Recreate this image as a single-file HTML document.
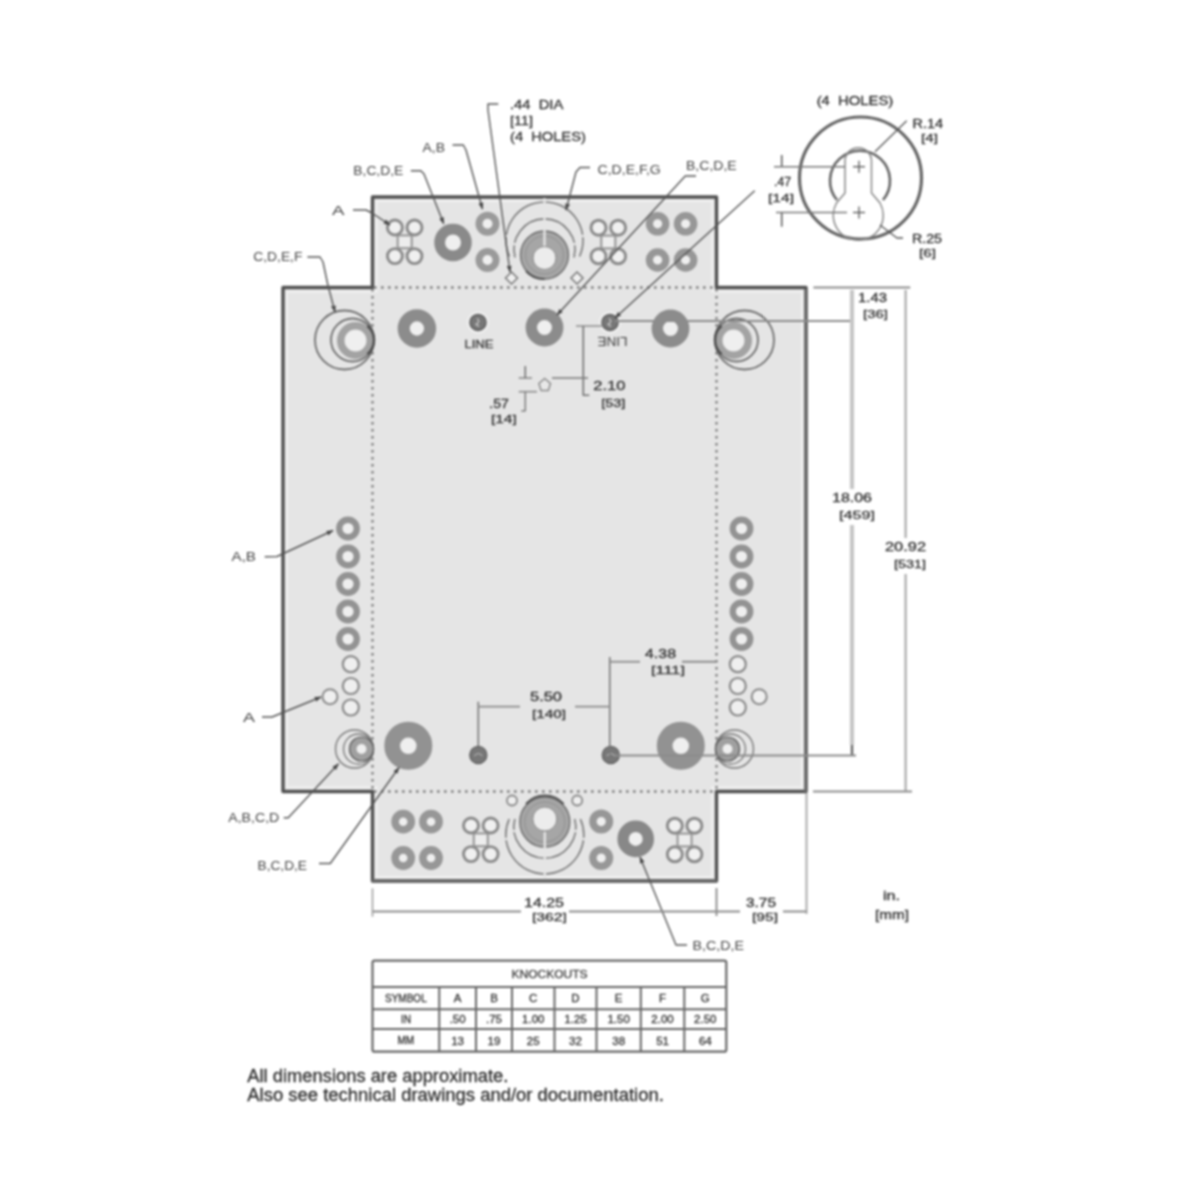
<!DOCTYPE html>
<html><head><meta charset="utf-8"><title>Knockouts drawing</title>
<style>
html,body{margin:0;padding:0;background:#fff;width:1200px;height:1200px;overflow:hidden}
svg{display:block;font-family:"Liberation Sans",sans-serif;filter:blur(0.8px)}
</style></head><body>
<svg width="1200" height="1200" viewBox="0 0 1200 1200">
<defs><marker id="arr" viewBox="0 0 10 10" refX="9" refY="5" markerWidth="5" markerHeight="5" orient="auto" markerUnits="strokeWidth"><path d="M0,1.5 L10,5 L0,8.5 Z" fill="#444"/></marker></defs>
<path d="M372.5,197 H716.5 V287.5 H806 V791.5 H716.5 V881 H372.5 V791.5 H283 V287.5 H372.5 Z" fill="#e5e5e5" stroke="#505050" stroke-width="3.4" stroke-linejoin="round"/>
<path d="M376.5,201 H712.5 V291.5 H802 V787.5 H712.5 V877 H376.5 V787.5 H287 V291.5 H376.5 Z" fill="none" stroke="#f0f0f0" stroke-width="2.5"/>
<path d="M806,289 V791.5" stroke="#6e6e6e" stroke-width="4"/>
<path d="M372.5,881 H716.5" stroke="#6a6a6a" stroke-width="3.8"/>
<line x1="372.5" y1="289" x2="372.5" y2="790" stroke="#808080" stroke-width="2.4" stroke-dasharray="2.6 4.4"/>
<line x1="716.5" y1="289" x2="716.5" y2="790" stroke="#808080" stroke-width="2.4" stroke-dasharray="2.6 4.4"/>
<line x1="374" y1="287.5" x2="715" y2="287.5" stroke="#808080" stroke-width="2.4" stroke-dasharray="2.6 4.4"/>
<line x1="374" y1="791.5" x2="715" y2="791.5" stroke="#808080" stroke-width="2.4" stroke-dasharray="2.6 4.4"/>
<rect x="397.7" y="235.4" width="14" height="12.8" fill="#ededed" stroke="#959595" stroke-width="2"/>
<circle cx="394.9" cy="227.5" r="7.5" fill="#f0f0f0" stroke="#8a8a8a" stroke-width="2.9"/>
<circle cx="394.9" cy="256.1" r="7.5" fill="#f0f0f0" stroke="#8a8a8a" stroke-width="2.9"/>
<circle cx="414.5" cy="227.5" r="7.5" fill="#f0f0f0" stroke="#8a8a8a" stroke-width="2.9"/>
<circle cx="414.5" cy="256.1" r="7.5" fill="#f0f0f0" stroke="#8a8a8a" stroke-width="2.9"/>
<circle cx="453" cy="242.5" r="13.38" fill="#efefef" stroke="#8a8a8a" stroke-width="10.75"/>
<circle cx="487.5" cy="223.75" r="8.50" fill="#efefef" stroke="#9a9a9a" stroke-width="7.00"/>
<circle cx="487.5" cy="260" r="8.50" fill="#efefef" stroke="#9a9a9a" stroke-width="7.00"/>
<path d="M509.5,256.5 A38.5,38.5 0 1 1 579.5,256.5" fill="none" stroke="#7a7a7a" stroke-width="1.6"/>
<path d="M515.1,257.5 A30.5,30.5 0 1 1 573.9,257.5" fill="none" stroke="#7a7a7a" stroke-width="1.6"/>
<circle cx="544.5" cy="255" r="24" fill="#a6a6a6" stroke="#6a6a6a" stroke-width="1.3"/>
<circle cx="544.5" cy="255" r="19" fill="none" stroke="#909090" stroke-width="1"/>
<circle cx="544.5" cy="258" r="11.5" fill="#ececec" stroke="#8a8a8a" stroke-width="1"/>
<path d="M526,271 A24,24 0 0 0 544.5,279" fill="none" stroke="#505050" stroke-width="2"/>
<line x1="544.5" y1="198" x2="544.5" y2="206" stroke="#e5e5e5" stroke-width="2.4"/>
<line x1="544.5" y1="215" x2="544.5" y2="223" stroke="#e5e5e5" stroke-width="2.4"/>
<line x1="544.5" y1="229" x2="544.5" y2="246" stroke="#e5e5e5" stroke-width="2.4"/>
<line x1="503" y1="236" x2="509" y2="236" stroke="#e5e5e5" stroke-width="2.4"/>
<line x1="580" y1="236" x2="586" y2="236" stroke="#e5e5e5" stroke-width="2.4"/>
<line x1="512" y1="244" x2="518" y2="244" stroke="#e5e5e5" stroke-width="2.4"/>
<line x1="571" y1="244" x2="577" y2="244" stroke="#e5e5e5" stroke-width="2.4"/>
<path d="M511.5,272 L517.5,278 L511.5,284 L505.5,278 Z" fill="#f0f0f0" stroke="#777" stroke-width="1.5"/>
<path d="M577,272 L583,278 L577,284 L571,278 Z" fill="#f0f0f0" stroke="#777" stroke-width="1.5"/>
<rect x="601.3" y="235.6" width="14" height="12.8" fill="#ededed" stroke="#959595" stroke-width="2"/>
<circle cx="598.5" cy="227.7" r="7.5" fill="#f0f0f0" stroke="#8a8a8a" stroke-width="2.9"/>
<circle cx="598.5" cy="256.3" r="7.5" fill="#f0f0f0" stroke="#8a8a8a" stroke-width="2.9"/>
<circle cx="618.0999999999999" cy="227.7" r="7.5" fill="#f0f0f0" stroke="#8a8a8a" stroke-width="2.9"/>
<circle cx="618.0999999999999" cy="256.3" r="7.5" fill="#f0f0f0" stroke="#8a8a8a" stroke-width="2.9"/>
<circle cx="657.6" cy="223.8" r="8.20" fill="#efefef" stroke="#979797" stroke-width="7.20"/>
<circle cx="685.6" cy="223.8" r="8.20" fill="#efefef" stroke="#979797" stroke-width="7.20"/>
<circle cx="657.6" cy="260" r="8.20" fill="#efefef" stroke="#979797" stroke-width="7.20"/>
<circle cx="685.6" cy="260" r="8.20" fill="#efefef" stroke="#979797" stroke-width="7.20"/>
<circle cx="344.5" cy="340" r="29.5" fill="none" stroke="#6e6e6e" stroke-width="1.8"/>
<circle cx="352.5" cy="340" r="21.5" fill="none" stroke="#6e6e6e" stroke-width="1.8"/>
<circle cx="355.5" cy="340.5" r="14.75" fill="#efefef" stroke="#a3a3a3" stroke-width="7.50"/>
<path d="M367.4,325.8 A18.5,18.5 0 0 1 367.4,354.2" fill="none" stroke="#4a4a4a" stroke-width="2.4"/>
<circle cx="744.5" cy="340" r="29.5" fill="none" stroke="#6e6e6e" stroke-width="1.8"/>
<circle cx="736.5" cy="340" r="21.5" fill="none" stroke="#6e6e6e" stroke-width="1.8"/>
<circle cx="733.5" cy="340.5" r="14.75" fill="#efefef" stroke="#a3a3a3" stroke-width="7.50"/>
<path d="M721.6,325.8 A18.5,18.5 0 0 0 721.6,354.2" fill="none" stroke="#4a4a4a" stroke-width="2.4"/>
<circle cx="416.9" cy="328.5" r="13.22" fill="#efefef" stroke="#8c8c8c" stroke-width="12.05"/>
<circle cx="544.5" cy="327.5" r="13.20" fill="#efefef" stroke="#8c8c8c" stroke-width="11.40"/>
<circle cx="670.5" cy="328.5" r="13.20" fill="#efefef" stroke="#8c8c8c" stroke-width="11.40"/>
<circle cx="478" cy="322.4" r="10" fill="none" stroke="#efefef" stroke-width="2"/>
<circle cx="478" cy="322.4" r="8" fill="#777" stroke="#5e5e5e" stroke-width="1.5"/>
<path d="M477,318.4 Q481,321.4 476,324.4 L479,326.4" fill="none" stroke="#c8c8c8" stroke-width="1.3"/>
<circle cx="610" cy="322.4" r="10" fill="none" stroke="#efefef" stroke-width="2"/>
<circle cx="610" cy="322.4" r="8" fill="#777" stroke="#5e5e5e" stroke-width="1.5"/>
<path d="M609,318.4 Q613,321.4 608,324.4 L611,326.4" fill="none" stroke="#c8c8c8" stroke-width="1.3"/>
<text x="479" y="347.5" font-size="11" text-anchor="middle" fill="#3a3a3a" stroke="#3a3a3a" stroke-width="0.3" textLength="29" lengthAdjust="spacingAndGlyphs" >LINE</text>
<text transform="translate(612.5,336.5) rotate(180)" x="0" y="0" font-size="12" text-anchor="middle" fill="#3a3a3a" textLength="30" lengthAdjust="spacingAndGlyphs">LINE</text>
<circle cx="348" cy="528.5" r="8.75" fill="#efefef" stroke="#939393" stroke-width="6.30"/>
<circle cx="741.5" cy="528.5" r="8.75" fill="#efefef" stroke="#939393" stroke-width="6.30"/>
<circle cx="348" cy="556.5" r="8.75" fill="#efefef" stroke="#939393" stroke-width="6.30"/>
<circle cx="741.5" cy="556.5" r="8.75" fill="#efefef" stroke="#939393" stroke-width="6.30"/>
<circle cx="348" cy="584" r="8.75" fill="#efefef" stroke="#939393" stroke-width="6.30"/>
<circle cx="741.5" cy="584" r="8.75" fill="#efefef" stroke="#939393" stroke-width="6.30"/>
<circle cx="348" cy="611.5" r="8.75" fill="#efefef" stroke="#939393" stroke-width="6.30"/>
<circle cx="741.5" cy="611.5" r="8.75" fill="#efefef" stroke="#939393" stroke-width="6.30"/>
<circle cx="348" cy="639" r="8.75" fill="#efefef" stroke="#939393" stroke-width="6.30"/>
<circle cx="741.5" cy="639" r="8.75" fill="#efefef" stroke="#939393" stroke-width="6.30"/>
<circle cx="350.8" cy="664.2" r="8" fill="#efefef" stroke="#8a8a8a" stroke-width="2.2"/>
<circle cx="737.8" cy="664.2" r="8" fill="#efefef" stroke="#8a8a8a" stroke-width="2.2"/>
<circle cx="350.8" cy="686" r="8" fill="#efefef" stroke="#8a8a8a" stroke-width="2.2"/>
<circle cx="737.8" cy="686" r="8" fill="#efefef" stroke="#8a8a8a" stroke-width="2.2"/>
<circle cx="350.8" cy="707.5" r="8" fill="#efefef" stroke="#8a8a8a" stroke-width="2.2"/>
<circle cx="737.8" cy="707.5" r="8" fill="#efefef" stroke="#8a8a8a" stroke-width="2.2"/>
<circle cx="330" cy="696.7" r="7.5" fill="#efefef" stroke="#8a8a8a" stroke-width="2"/>
<circle cx="759.2" cy="696.7" r="7.5" fill="#efefef" stroke="#8a8a8a" stroke-width="2"/>
<circle cx="354.5" cy="749" r="19" fill="none" stroke="#777" stroke-width="1.4"/>
<circle cx="358.5" cy="749" r="15" fill="none" stroke="#777" stroke-width="1.3"/>
<circle cx="361.5" cy="749" r="8.50" fill="#efefef" stroke="#a0a0a0" stroke-width="7.00"/>
<circle cx="361.5" cy="749" r="12" fill="none" stroke="#555" stroke-width="1.2"/>
<circle cx="734.5" cy="749" r="19" fill="none" stroke="#777" stroke-width="1.4"/>
<circle cx="730.5" cy="749" r="15" fill="none" stroke="#777" stroke-width="1.3"/>
<circle cx="727.5" cy="749" r="8.50" fill="#efefef" stroke="#a0a0a0" stroke-width="7.00"/>
<circle cx="727.5" cy="749" r="12" fill="none" stroke="#555" stroke-width="1.2"/>
<circle cx="408.3" cy="745.8" r="16.15" fill="#efefef" stroke="#929292" stroke-width="15.70"/>
<circle cx="680.8" cy="745.8" r="16.15" fill="#efefef" stroke="#929292" stroke-width="15.70"/>
<circle cx="478.3" cy="755" r="8.6" fill="#777" stroke="#5e5e5e" stroke-width="1.2"/>
<path d="M474.3,756 Q478.3,751 482.3,756" fill="none" stroke="#bbb" stroke-width="1.2"/>
<circle cx="610.8" cy="755" r="8.6" fill="#777" stroke="#5e5e5e" stroke-width="1.2"/>
<path d="M606.8,756 Q610.8,751 614.8,756" fill="none" stroke="#bbb" stroke-width="1.2"/>
<circle cx="403.2" cy="821.7" r="8.10" fill="#efefef" stroke="#979797" stroke-width="7.60"/>
<circle cx="431" cy="821.7" r="8.10" fill="#efefef" stroke="#979797" stroke-width="7.60"/>
<circle cx="403.2" cy="858" r="8.10" fill="#efefef" stroke="#979797" stroke-width="7.60"/>
<circle cx="431" cy="858" r="8.10" fill="#efefef" stroke="#979797" stroke-width="7.60"/>
<rect x="473.8" y="833.4" width="14" height="12.8" fill="#ededed" stroke="#959595" stroke-width="2"/>
<circle cx="471.0" cy="825.5" r="7.5" fill="#f0f0f0" stroke="#8a8a8a" stroke-width="2.9"/>
<circle cx="471.0" cy="854.0999999999999" r="7.5" fill="#f0f0f0" stroke="#8a8a8a" stroke-width="2.9"/>
<circle cx="490.6" cy="825.5" r="7.5" fill="#f0f0f0" stroke="#8a8a8a" stroke-width="2.9"/>
<circle cx="490.6" cy="854.0999999999999" r="7.5" fill="#f0f0f0" stroke="#8a8a8a" stroke-width="2.9"/>
<path d="M509.2,819 A39,39 0 1 0 580.4,819" fill="none" stroke="#7a7a7a" stroke-width="1.6"/>
<path d="M514.9,819 A31,31 0 1 0 574.7,819" fill="none" stroke="#7a7a7a" stroke-width="1.6"/>
<circle cx="544.8" cy="822" r="25" fill="#a6a6a6" stroke="#6a6a6a" stroke-width="1.3"/>
<circle cx="544.8" cy="822" r="20" fill="none" stroke="#909090" stroke-width="1"/>
<circle cx="544.8" cy="819" r="12" fill="#ececec" stroke="#8a8a8a" stroke-width="1"/>
<path d="M526,804 A25,25 0 0 1 563.6,804" fill="none" stroke="#505050" stroke-width="2"/>
<line x1="544.8" y1="870" x2="544.8" y2="878" stroke="#e5e5e5" stroke-width="2.4"/>
<line x1="544.8" y1="854" x2="544.8" y2="862" stroke="#e5e5e5" stroke-width="2.4"/>
<line x1="544.8" y1="832" x2="544.8" y2="848" stroke="#e5e5e5" stroke-width="2.4"/>
<line x1="503" y1="839" x2="509" y2="839" stroke="#e5e5e5" stroke-width="2.4"/>
<line x1="580" y1="839" x2="586" y2="839" stroke="#e5e5e5" stroke-width="2.4"/>
<line x1="512" y1="831" x2="518" y2="831" stroke="#e5e5e5" stroke-width="2.4"/>
<line x1="571" y1="831" x2="577" y2="831" stroke="#e5e5e5" stroke-width="2.4"/>
<circle cx="512" cy="800.5" r="5" fill="#efefef" stroke="#888" stroke-width="1.8"/>
<circle cx="577.2" cy="800.5" r="5" fill="#efefef" stroke="#888" stroke-width="1.8"/>
<circle cx="601.2" cy="821.6" r="8.30" fill="#efefef" stroke="#979797" stroke-width="7.40"/>
<circle cx="601.2" cy="858" r="8.30" fill="#efefef" stroke="#979797" stroke-width="7.40"/>
<circle cx="635.7" cy="838.9" r="12.65" fill="#efefef" stroke="#888" stroke-width="11.30"/>
<rect x="677.6" y="833.6" width="14" height="12.8" fill="#ededed" stroke="#959595" stroke-width="2"/>
<circle cx="674.8000000000001" cy="825.7" r="7.5" fill="#f0f0f0" stroke="#8a8a8a" stroke-width="2.9"/>
<circle cx="674.8000000000001" cy="854.3" r="7.5" fill="#f0f0f0" stroke="#8a8a8a" stroke-width="2.9"/>
<circle cx="694.4" cy="825.7" r="7.5" fill="#f0f0f0" stroke="#8a8a8a" stroke-width="2.9"/>
<circle cx="694.4" cy="854.3" r="7.5" fill="#f0f0f0" stroke="#8a8a8a" stroke-width="2.9"/>
<path d="M353,210 L366,210 L372,213 L390,225" fill="none" stroke="#555" stroke-width="1.4" stroke-linejoin="round"  marker-end="url(#arr)"/>
<path d="M307.4,257 L320,257 L323,262 L328,285.5 L335,312" fill="none" stroke="#555" stroke-width="1.4" stroke-linejoin="round"  marker-end="url(#arr)"/>
<path d="M410.8,170.8 L420.8,170.8 L424,174 L443.75,223.75" fill="none" stroke="#555" stroke-width="1.4" stroke-linejoin="round"  marker-end="url(#arr)"/>
<path d="M452.5,145 L463.3,145 L466,150 L482.5,209" fill="none" stroke="#555" stroke-width="1.4" stroke-linejoin="round"  marker-end="url(#arr)"/>
<path d="M498.3,104 L488,104 L488,110 L510,272" fill="none" stroke="#555" stroke-width="1.4" stroke-linejoin="round"  marker-end="url(#arr)"/>
<path d="M590,167.5 L580,167.5 L576,172 L566,210" fill="none" stroke="#555" stroke-width="1.4" stroke-linejoin="round"  marker-end="url(#arr)"/>
<path d="M696,176 L685.3,176 L557,315" fill="none" stroke="#555" stroke-width="1.4" stroke-linejoin="round"  marker-end="url(#arr)"/>
<path d="M754.7,190.7 L615,318" fill="none" stroke="#555" stroke-width="1.4" stroke-linejoin="round"  marker-end="url(#arr)"/>
<path d="M264.75,556.75 L277,556.5 L333,530.5" fill="none" stroke="#555" stroke-width="1.4" stroke-linejoin="round"  marker-end="url(#arr)"/>
<path d="M262,717 L272,717 L321,697" fill="none" stroke="#555" stroke-width="1.4" stroke-linejoin="round"  marker-end="url(#arr)"/>
<path d="M283.75,817.75 L288.25,817.75 L338.5,763.75" fill="none" stroke="#555" stroke-width="1.4" stroke-linejoin="round"  marker-end="url(#arr)"/>
<path d="M319,863.5 L330.25,863.5 L399,767.5" fill="none" stroke="#555" stroke-width="1.4" stroke-linejoin="round"  marker-end="url(#arr)"/>
<path d="M687,945 L676,945 L640,857" fill="none" stroke="#555" stroke-width="1.4" stroke-linejoin="round"  marker-end="url(#arr)"/>
<path d="M813.4,287.5 L910.3,287.5" fill="none" stroke="#8c8c8c" stroke-width="2" stroke-linejoin="round" />
<path d="M615,321 L852,321" fill="none" stroke="#8c8c8c" stroke-width="2" stroke-linejoin="round" />
<path d="M852,290 L852,489" fill="none" stroke="#c6c6c6" stroke-width="4.2" stroke-linejoin="round" />
<path d="M852,525 L852,745" fill="none" stroke="#c6c6c6" stroke-width="4.2" stroke-linejoin="round" />
<path d="M852,745 L852,755" fill="none" stroke="#666" stroke-width="2.4" stroke-linejoin="round" />
<path d="M615,755.5 L856,755.5" fill="none" stroke="#8c8c8c" stroke-width="2.2" stroke-linejoin="round" />
<path d="M905.6,290 L905.6,538" fill="none" stroke="#aaa" stroke-width="2.2" stroke-linejoin="round" />
<path d="M905.6,574 L905.6,791.5" fill="none" stroke="#aaa" stroke-width="2.2" stroke-linejoin="round" />
<path d="M813,791.5 L912,791.5" fill="none" stroke="#8c8c8c" stroke-width="2" stroke-linejoin="round" />
<path d="M576,326 L603,326" fill="none" stroke="#8c8c8c" stroke-width="1.5" stroke-linejoin="round" />
<path d="M583.3,326 L583.3,395.3 L589.3,395.3" fill="none" stroke="#707070" stroke-width="1.6" stroke-linejoin="round" />
<path d="M518.7,378 L532,378" fill="none" stroke="#8c8c8c" stroke-width="1.6" stroke-linejoin="round" />
<path d="M552,378 L588,378" fill="none" stroke="#777" stroke-width="1.6" stroke-linejoin="round" />
<path d="M518.7,391.7 L537,391.7" fill="none" stroke="#8c8c8c" stroke-width="1.6" stroke-linejoin="round" />
<path d="M525.3,366 L525.3,378" fill="none" stroke="#666" stroke-width="1.4" stroke-linejoin="round" />
<path d="M525.3,391.7 L525.3,410.7 L521.3,411" fill="none" stroke="#777" stroke-width="1.4" stroke-linejoin="round" />
<path d="M544.7,378.5 L550.5,383.5 L548.3,390.5 L541.1,390.5 L538.9,383.5 Z" fill="#e8e8e8" stroke="#8c8c8c" stroke-width="1.5"/>
<path d="M609.75,754 L609.75,657" fill="none" stroke="#777" stroke-width="1.6" stroke-linejoin="round" />
<path d="M609.75,661.75 L640,661.75" fill="none" stroke="#8c8c8c" stroke-width="1.8" stroke-linejoin="round" />
<path d="M682,661.75 L716.5,661.75" fill="none" stroke="#8c8c8c" stroke-width="1.8" stroke-linejoin="round" />
<path d="M478.3,746 L478.3,701.7" fill="none" stroke="#777" stroke-width="1.6" stroke-linejoin="round" />
<path d="M478.3,706.7 L520,706.7" fill="none" stroke="#8c8c8c" stroke-width="1.8" stroke-linejoin="round" />
<path d="M575,706.7 L609.75,706.7" fill="none" stroke="#8c8c8c" stroke-width="1.8" stroke-linejoin="round" />
<path d="M372.5,888.3 L372.5,916.7" fill="none" stroke="#aaa" stroke-width="1.8" stroke-linejoin="round" />
<path d="M716.5,888 L716.5,916" fill="none" stroke="#888" stroke-width="1.8" stroke-linejoin="round" />
<path d="M806.5,793 L806.5,914" fill="none" stroke="#aaa" stroke-width="2" stroke-linejoin="round" />
<path d="M372.5,911.5 L521,911.5" fill="none" stroke="#8c8c8c" stroke-width="2" stroke-linejoin="round" />
<path d="M569,911.5 L740,911.5" fill="none" stroke="#8c8c8c" stroke-width="2" stroke-linejoin="round" />
<path d="M783,911.5 L806.5,911.5" fill="none" stroke="#8c8c8c" stroke-width="2" stroke-linejoin="round" />
<circle cx="860.5" cy="178" r="61" fill="#fff" stroke="#666" stroke-width="3.2"/>
<path d="M837,200 A30,30 0 1 1 883,200" fill="none" stroke="#666" stroke-width="2.6"/>
<path d="M845,193 V161 A13,13 0 0 1 871.5,161 V193 L880,203 A25,25 0 1 1 836.5,203 Z" fill="none" stroke="#888" stroke-width="1.5"/>
<path d="M853,166.7 L865,166.7" fill="none" stroke="#555" stroke-width="1.3" stroke-linejoin="round" />
<path d="M859,160.7 L859,172.7" fill="none" stroke="#555" stroke-width="1.3" stroke-linejoin="round" />
<path d="M853,212.5 L865,212.5" fill="none" stroke="#555" stroke-width="1.3" stroke-linejoin="round" />
<path d="M859,206.5 L859,218.5" fill="none" stroke="#555" stroke-width="1.3" stroke-linejoin="round" />
<path d="M774,166.7 L845,166.7" fill="none" stroke="#777" stroke-width="1.6" stroke-linejoin="round" />
<path d="M776,212.5 L847,212.5" fill="none" stroke="#777" stroke-width="1.6" stroke-linejoin="round" />
<path d="M781.7,155 L781.7,166" fill="none" stroke="#555" stroke-width="1.5" stroke-linejoin="round" />
<path d="M781.7,213 L781.7,226.7" fill="none" stroke="#555" stroke-width="1.5" stroke-linejoin="round" />
<path d="M906.7,120.8 L875,151.7" fill="none" stroke="#555" stroke-width="1.3" stroke-linejoin="round" />
<path d="M903,238 L897,238 L880,225" fill="none" stroke="#555" stroke-width="1.3" stroke-linejoin="round" />
<text x="332" y="215.32" font-size="12" text-anchor="start" fill="#444" stroke="#444" stroke-width="0" textLength="12.5" lengthAdjust="spacingAndGlyphs" >A</text>
<text x="253.3" y="260.82" font-size="12" text-anchor="start" fill="#444" stroke="#444" stroke-width="0" textLength="49.1" lengthAdjust="spacingAndGlyphs" >C,D,E,F</text>
<text x="353.3" y="175.12" font-size="12" text-anchor="start" fill="#444" stroke="#444" stroke-width="0" textLength="50.0" lengthAdjust="spacingAndGlyphs" >B,C,D,E</text>
<text x="422.5" y="151.82" font-size="12" text-anchor="start" fill="#444" stroke="#444" stroke-width="0" textLength="22.5" lengthAdjust="spacingAndGlyphs" >A,B</text>
<text x="510" y="109.32" font-size="12" text-anchor="start" fill="#303030" stroke="#303030" stroke-width="0.3" textLength="53.3" lengthAdjust="spacingAndGlyphs" >.44  DIA</text>
<text x="510" y="125.12" font-size="12" text-anchor="start" fill="#303030" stroke="#303030" stroke-width="0.3" textLength="23" lengthAdjust="spacingAndGlyphs" >[11]</text>
<text x="510" y="141.01999999999998" font-size="12" text-anchor="start" fill="#303030" stroke="#303030" stroke-width="0.3" textLength="75.8" lengthAdjust="spacingAndGlyphs" >(4  HOLES)</text>
<text x="597.5" y="174.32" font-size="12" text-anchor="start" fill="#444" stroke="#444" stroke-width="0" textLength="63.3" lengthAdjust="spacingAndGlyphs" >C,D,E,F,G</text>
<text x="686" y="170.32" font-size="12" text-anchor="start" fill="#444" stroke="#444" stroke-width="0" textLength="50.7" lengthAdjust="spacingAndGlyphs" >B,C,D,E</text>
<text x="816.7" y="105.12" font-size="12" text-anchor="start" fill="#303030" stroke="#303030" stroke-width="0.3" textLength="76.6" lengthAdjust="spacingAndGlyphs" >(4  HOLES)</text>
<text x="912.5" y="127.62" font-size="12" text-anchor="start" fill="#303030" stroke="#303030" stroke-width="0.3" textLength="30.5" lengthAdjust="spacingAndGlyphs" >R.14</text>
<text x="921" y="142.26000000000002" font-size="11" text-anchor="start" fill="#303030" stroke="#303030" stroke-width="0.3" textLength="17" lengthAdjust="spacingAndGlyphs" >[4]</text>
<text x="912" y="242.62" font-size="12" text-anchor="start" fill="#303030" stroke="#303030" stroke-width="0.3" textLength="30" lengthAdjust="spacingAndGlyphs" >R.25</text>
<text x="919" y="256.96" font-size="11" text-anchor="start" fill="#303030" stroke="#303030" stroke-width="0.3" textLength="17" lengthAdjust="spacingAndGlyphs" >[6]</text>
<text x="774" y="186.01999999999998" font-size="12" text-anchor="start" fill="#303030" stroke="#303030" stroke-width="0.3" textLength="17" lengthAdjust="spacingAndGlyphs" >.47</text>
<text x="768" y="201.96" font-size="11" text-anchor="start" fill="#303030" stroke="#303030" stroke-width="0.3" textLength="26" lengthAdjust="spacingAndGlyphs" >[14]</text>
<text x="858" y="301.71999999999997" font-size="12" text-anchor="start" fill="#303030" stroke="#303030" stroke-width="0.3" textLength="29" lengthAdjust="spacingAndGlyphs" >1.43</text>
<text x="863" y="318.26" font-size="11" text-anchor="start" fill="#303030" stroke="#303030" stroke-width="0.3" textLength="25" lengthAdjust="spacingAndGlyphs" >[36]</text>
<text x="593.3" y="390.32" font-size="12" text-anchor="start" fill="#303030" stroke="#303030" stroke-width="0.3" textLength="32.0" lengthAdjust="spacingAndGlyphs" >2.10</text>
<text x="601.3" y="407.26" font-size="11" text-anchor="start" fill="#303030" stroke="#303030" stroke-width="0.3" textLength="24.0" lengthAdjust="spacingAndGlyphs" >[53]</text>
<text x="489.3" y="408.32" font-size="12" text-anchor="start" fill="#303030" stroke="#303030" stroke-width="0.3" textLength="19.4" lengthAdjust="spacingAndGlyphs" >.57</text>
<text x="491" y="423.26" font-size="11" text-anchor="start" fill="#303030" stroke="#303030" stroke-width="0.3" textLength="25.7" lengthAdjust="spacingAndGlyphs" >[14]</text>
<text x="832" y="501.82" font-size="12" text-anchor="start" fill="#303030" stroke="#303030" stroke-width="0.3" textLength="40" lengthAdjust="spacingAndGlyphs" >18.06</text>
<text x="839" y="518.96" font-size="11" text-anchor="start" fill="#303030" stroke="#303030" stroke-width="0.3" textLength="36" lengthAdjust="spacingAndGlyphs" >[459]</text>
<text x="885" y="550.82" font-size="12" text-anchor="start" fill="#303030" stroke="#303030" stroke-width="0.3" textLength="41" lengthAdjust="spacingAndGlyphs" >20.92</text>
<text x="894" y="568.46" font-size="11" text-anchor="start" fill="#303030" stroke="#303030" stroke-width="0.3" textLength="32" lengthAdjust="spacingAndGlyphs" >[531]</text>
<text x="231.5" y="561.07" font-size="12" text-anchor="start" fill="#444" stroke="#444" stroke-width="0" textLength="24.5" lengthAdjust="spacingAndGlyphs" >A,B</text>
<text x="243" y="722.07" font-size="12" text-anchor="start" fill="#444" stroke="#444" stroke-width="0" textLength="12" lengthAdjust="spacingAndGlyphs" >A</text>
<text x="645" y="658.32" font-size="12" text-anchor="start" fill="#303030" stroke="#303030" stroke-width="0.3" textLength="31" lengthAdjust="spacingAndGlyphs" >4.38</text>
<text x="651" y="673.96" font-size="11" text-anchor="start" fill="#303030" stroke="#303030" stroke-width="0.3" textLength="34" lengthAdjust="spacingAndGlyphs" >[111]</text>
<text x="530" y="701.32" font-size="12" text-anchor="start" fill="#303030" stroke="#303030" stroke-width="0.3" textLength="32" lengthAdjust="spacingAndGlyphs" >5.50</text>
<text x="532" y="717.96" font-size="11" text-anchor="start" fill="#303030" stroke="#303030" stroke-width="0.3" textLength="34" lengthAdjust="spacingAndGlyphs" >[140]</text>
<text x="228.25" y="822.07" font-size="12" text-anchor="start" fill="#444" stroke="#444" stroke-width="0" textLength="51.0" lengthAdjust="spacingAndGlyphs" >A,B,C,D</text>
<text x="257.5" y="870.07" font-size="12" text-anchor="start" fill="#444" stroke="#444" stroke-width="0" textLength="49.5" lengthAdjust="spacingAndGlyphs" >B,C,D,E</text>
<text x="524" y="907.0200000000001" font-size="12" text-anchor="start" fill="#303030" stroke="#303030" stroke-width="0.3" textLength="40" lengthAdjust="spacingAndGlyphs" >14.25</text>
<text x="532" y="920.96" font-size="11" text-anchor="start" fill="#303030" stroke="#303030" stroke-width="0.3" textLength="35" lengthAdjust="spacingAndGlyphs" >[362]</text>
<text x="746" y="907.0200000000001" font-size="12" text-anchor="start" fill="#303030" stroke="#303030" stroke-width="0.3" textLength="30" lengthAdjust="spacingAndGlyphs" >3.75</text>
<text x="752" y="920.96" font-size="11" text-anchor="start" fill="#303030" stroke="#303030" stroke-width="0.3" textLength="26" lengthAdjust="spacingAndGlyphs" >[95]</text>
<text x="883" y="899.72" font-size="12" text-anchor="start" fill="#303030" stroke="#303030" stroke-width="0.3" textLength="17" lengthAdjust="spacingAndGlyphs" >in.</text>
<text x="875" y="919.12" font-size="12" text-anchor="start" fill="#303030" stroke="#303030" stroke-width="0.3" textLength="34" lengthAdjust="spacingAndGlyphs" >[mm]</text>
<text x="692.5" y="949.62" font-size="12" text-anchor="start" fill="#444" stroke="#444" stroke-width="0" textLength="51.4" lengthAdjust="spacingAndGlyphs" >B,C,D,E</text>
<rect x="372.5" y="960.7" width="353.8" height="91" rx="2" fill="#fff" stroke="#666" stroke-width="2.2"/>
<path d="M372.5,987 L726.3,987" fill="none" stroke="#666" stroke-width="2" stroke-linejoin="round" />
<path d="M372.5,1009.3 L726.3,1009.3" fill="none" stroke="#666" stroke-width="2" stroke-linejoin="round" />
<path d="M372.5,1029 L726.3,1029" fill="none" stroke="#666" stroke-width="2" stroke-linejoin="round" />
<path d="M439.25,987 L439.25,1052" fill="none" stroke="#666" stroke-width="2" stroke-linejoin="round" />
<path d="M476,987 L476,1052" fill="none" stroke="#666" stroke-width="2" stroke-linejoin="round" />
<path d="M512,987 L512,1052" fill="none" stroke="#666" stroke-width="2" stroke-linejoin="round" />
<path d="M554.5,987 L554.5,1052" fill="none" stroke="#666" stroke-width="2" stroke-linejoin="round" />
<path d="M596.5,987 L596.5,1052" fill="none" stroke="#666" stroke-width="2" stroke-linejoin="round" />
<path d="M640.8,987 L640.8,1052" fill="none" stroke="#666" stroke-width="2" stroke-linejoin="round" />
<path d="M684.3,987 L684.3,1052" fill="none" stroke="#666" stroke-width="2" stroke-linejoin="round" />
<text x="549.5" y="977.5" font-size="10" text-anchor="middle" fill="#444" stroke="#444" stroke-width="0.3" textLength="76" lengthAdjust="spacingAndGlyphs" >KNOCKOUTS</text>
<text x="405.875" y="1001.8000000000001" font-size="10" text-anchor="middle" fill="#333" stroke="#333" stroke-width="0.3" >SYMBOL</text>
<text x="457.625" y="1002.34" font-size="11.5" text-anchor="middle" fill="#333" stroke="#333" stroke-width="0.3" >A</text>
<text x="494.0" y="1002.34" font-size="11.5" text-anchor="middle" fill="#333" stroke="#333" stroke-width="0.3" >B</text>
<text x="533.25" y="1002.34" font-size="11.5" text-anchor="middle" fill="#333" stroke="#333" stroke-width="0.3" >C</text>
<text x="575.5" y="1002.34" font-size="11.5" text-anchor="middle" fill="#333" stroke="#333" stroke-width="0.3" >D</text>
<text x="618.65" y="1002.34" font-size="11.5" text-anchor="middle" fill="#333" stroke="#333" stroke-width="0.3" >E</text>
<text x="662.55" y="1002.34" font-size="11.5" text-anchor="middle" fill="#333" stroke="#333" stroke-width="0.3" >F</text>
<text x="705.3" y="1002.34" font-size="11.5" text-anchor="middle" fill="#333" stroke="#333" stroke-width="0.3" >G</text>
<text x="405.875" y="1022.8000000000001" font-size="10" text-anchor="middle" fill="#333" stroke="#333" stroke-width="0.3" >IN</text>
<text x="457.625" y="1023.34" font-size="11.5" text-anchor="middle" fill="#333" stroke="#333" stroke-width="0.3" >.50</text>
<text x="494.0" y="1023.34" font-size="11.5" text-anchor="middle" fill="#333" stroke="#333" stroke-width="0.3" >.75</text>
<text x="533.25" y="1023.34" font-size="11.5" text-anchor="middle" fill="#333" stroke="#333" stroke-width="0.3" >1.00</text>
<text x="575.5" y="1023.34" font-size="11.5" text-anchor="middle" fill="#333" stroke="#333" stroke-width="0.3" >1.25</text>
<text x="618.65" y="1023.34" font-size="11.5" text-anchor="middle" fill="#333" stroke="#333" stroke-width="0.3" >1.50</text>
<text x="662.55" y="1023.34" font-size="11.5" text-anchor="middle" fill="#333" stroke="#333" stroke-width="0.3" >2.00</text>
<text x="705.3" y="1023.34" font-size="11.5" text-anchor="middle" fill="#333" stroke="#333" stroke-width="0.3" >2.50</text>
<text x="405.875" y="1044.1" font-size="10" text-anchor="middle" fill="#333" stroke="#333" stroke-width="0.3" >MM</text>
<text x="457.625" y="1044.64" font-size="11.5" text-anchor="middle" fill="#333" stroke="#333" stroke-width="0.3" >13</text>
<text x="494.0" y="1044.64" font-size="11.5" text-anchor="middle" fill="#333" stroke="#333" stroke-width="0.3" >19</text>
<text x="533.25" y="1044.64" font-size="11.5" text-anchor="middle" fill="#333" stroke="#333" stroke-width="0.3" >25</text>
<text x="575.5" y="1044.64" font-size="11.5" text-anchor="middle" fill="#333" stroke="#333" stroke-width="0.3" >32</text>
<text x="618.65" y="1044.64" font-size="11.5" text-anchor="middle" fill="#333" stroke="#333" stroke-width="0.3" >38</text>
<text x="662.55" y="1044.64" font-size="11.5" text-anchor="middle" fill="#333" stroke="#333" stroke-width="0.3" >51</text>
<text x="705.3" y="1044.64" font-size="11.5" text-anchor="middle" fill="#333" stroke="#333" stroke-width="0.3" >64</text>
<text x="247.3" y="1081.5" font-size="18" text-anchor="start" fill="#2e2e2e" stroke="#2e2e2e" stroke-width="0.3" textLength="261" lengthAdjust="spacingAndGlyphs" >All dimensions are approximate.</text>
<text x="247.3" y="1101" font-size="18" text-anchor="start" fill="#2e2e2e" stroke="#2e2e2e" stroke-width="0.3" textLength="416.5" lengthAdjust="spacingAndGlyphs" >Also see technical drawings and/or documentation.</text>
</svg>
</body></html>
